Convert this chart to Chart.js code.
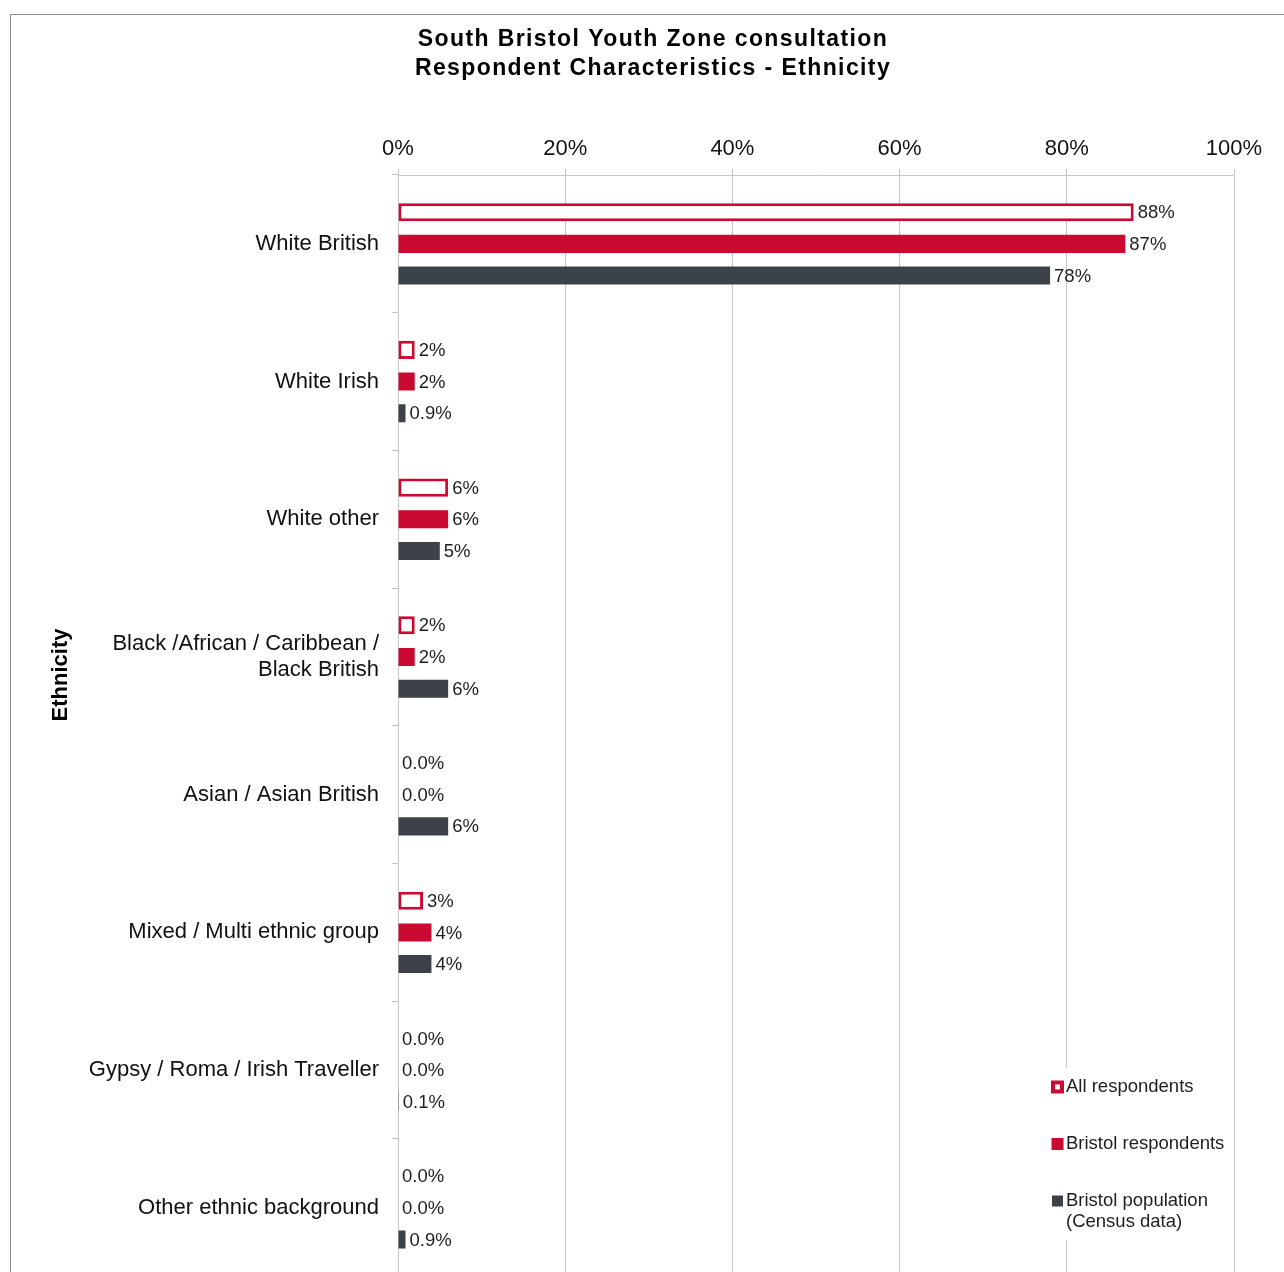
<!DOCTYPE html>
<html>
<head>
<meta charset="utf-8">
<title>South Bristol Youth Zone consultation - Ethnicity</title>
<script src="https://cdn.jsdelivr.net/npm/chart.js@4.4.1/dist/chart.umd.min.js"></script>
<style>
  html, body { margin: 0; padding: 0; background: #ffffff; overflow: hidden; }
  #wrap { position: absolute; left: 0; top: 0; width: 1300px; height: 1290px; }
  canvas { display: block; }
</style>
</head>
<body>
<div id="wrap"><canvas id="chart" width="1300" height="1290"></canvas></div>
<script>
// Ethnic groups (y axis)
const categories = [
  'White British',
  'White Irish',
  'White other',
  ['Black /African / Caribbean /', 'Black British'],
  'Asian / Asian British',
  'Mixed / Multi ethnic group',
  'Gypsy / Roma / Irish Traveller',
  'Other ethnic background'
];

// Series names
const seriesNames = ['All respondents', 'Bristol respondents', ['Bristol population', '(Census data)']];

// Share of each group, in percent
const allRespondents     = [88, 2, 6, 2, 0, 3, 0, 0];
const bristolRespondents = [87, 2, 6, 2, 0, 4, 0, 0];
const bristolPopulation  = [78, 0.9, 5, 6, 6, 4, 0.1, 0.9];

// Percentage axis
const axisMin = 0;
const axisMax = 100;
const axisStep = 20;

const chartTitle = ['South Bristol Youth Zone consultation', 'Respondent Characteristics - Ethnicity'];
const yAxisTitle = 'Ethnicity';

const RED = '#CA0A30';
const DARK = '#3D4148';
const GRID = '#c6c6c6';
const FONT = '"Liberation Sans", Arial, Helvetica, sans-serif';

function pct(v) {
  return v >= 1 ? Math.round(v) + '%' : v.toFixed(1) + '%';
}

// Outer frame around the chart
const framePlugin = {
  id: 'frame',
  beforeDraw(chart) {
    const ctx = chart.ctx;
    ctx.save();
    ctx.fillStyle = '#ffffff';
    ctx.fillRect(0, 0, chart.width, chart.height);
    ctx.strokeStyle = '#8c8c8c';
    ctx.lineWidth = 1;
    ctx.strokeRect(10.5, 14.5, chart.width + 50, chart.height + 50);
    ctx.restore();
  }
};

// Slightly tracked-out title lettering
const titleSpacingPlugin = {
  id: 'titleSpacing',
  afterInit(chart) {
    const block = chart.titleBlock;
    if (!block || block._spaced) return;
    const draw = block.draw.bind(block);
    block.draw = function () {
      const ctx = chart.ctx;
      ctx.save();
      if ('letterSpacing' in ctx) ctx.letterSpacing = '1.4px';
      draw();
      ctx.restore();
    };
    block._spaced = true;
  }
};

// Value labels at the end of each bar
const valueLabelPlugin = {
  id: 'valueLabels',
  afterDatasetsDraw(chart) {
    const ctx = chart.ctx;
    ctx.save();
    ctx.font = '18.5px ' + FONT;
    ctx.fillStyle = '#1e1e1e';
    ctx.textAlign = 'left';
    ctx.textBaseline = 'middle';
    chart.data.datasets.forEach((ds, i) => {
      const meta = chart.getDatasetMeta(i);
      meta.data.forEach((bar, j) => {
        ctx.fillText(pct(ds.data[j]), bar.x + 4, bar.y + 1);
      });
    });
    ctx.restore();
  }
};

// Rotated y axis title
const yTitlePlugin = {
  id: 'yTitle',
  afterDraw(chart) {
    const ctx = chart.ctx;
    ctx.save();
    ctx.translate(61, 675);
    ctx.rotate(-Math.PI / 2);
    ctx.font = 'bold 22px ' + FONT;
    ctx.fillStyle = '#000000';
    ctx.textAlign = 'center';
    ctx.textBaseline = 'middle';
    ctx.fillText(yAxisTitle, 0, 0);
    ctx.restore();
  }
};

// Legend placed inside the plot, lower right
const legendPlugin = {
  id: 'insideLegend',
  afterDraw(chart) {
    const ctx = chart.ctx;
    const x0 = 1044, y0 = 1068, w = 186, h = 172;
    ctx.save();
    ctx.fillStyle = '#ffffff';
    ctx.fillRect(x0, y0, w, h);
    ctx.font = '18.5px ' + FONT;
    ctx.textAlign = 'left';
    ctx.textBaseline = 'middle';
    const rows = [1087, 1144, 1201];
    chart.data.datasets.forEach((ds, i) => {
      const cy = rows[i];
      if (i === 0) {
        ctx.fillStyle = ds.borderColor;
        ctx.fillRect(1051, cy - 6.5, 13, 13);
        ctx.fillStyle = '#ffffff';
        ctx.fillRect(1055, cy - 2.5, 5, 5);
      } else {
        const s = i === 1 ? 12 : 11;
        ctx.fillStyle = ds.backgroundColor;
        ctx.fillRect(1057.5 - s / 2, cy - s / 2, s, s);
      }
      ctx.fillStyle = '#1e1e1e';
      const lines = Array.isArray(seriesNames[i]) ? seriesNames[i] : [seriesNames[i]];
      lines.forEach((t, k) => ctx.fillText(t, 1066, cy + k * 21));
    });
    ctx.restore();
  }
};

const TITLE_PAD_TOP = 24.5;
const TITLE_PAD_BOTTOM = 10;
const TITLE_LINE = 29.5;
const PLOT_TOP = 175;
const PLOT_LEFT = 398;
const PAD_LEFT = 72;

new Chart(document.getElementById('chart'), {
  type: 'bar',
  data: {
    labels: categories,
    datasets: [
      {
        label: 'All respondents',
        data: allRespondents,
        backgroundColor: '#ffffff',
        borderColor: RED,
        borderWidth: 3,
        borderSkipped: false
      },
      {
        label: 'Bristol respondents',
        data: bristolRespondents,
        backgroundColor: RED,
        borderWidth: 0
      },
      {
        label: 'Bristol population (Census data)',
        data: bristolPopulation,
        backgroundColor: DARK,
        borderWidth: 0
      }
    ]
  },
  options: {
    indexAxis: 'y',
    responsive: false,
    animation: false,
    devicePixelRatio: 1,
    barPercentage: 0.57,
    categoryPercentage: 0.69,
    layout: {
      padding: { left: PAD_LEFT, right: 66, top: 0, bottom: 13.3 }
    },
    plugins: {
      legend: { display: false },
      tooltip: { enabled: false },
      title: {
        display: true,
        text: chartTitle,
        color: '#000000',
        font: { family: FONT, size: 23, weight: 'bold', lineHeight: TITLE_LINE / 23 },
        padding: { top: TITLE_PAD_TOP, bottom: TITLE_PAD_BOTTOM }
      }
    },
    scales: {
      x: {
        position: 'top',
        min: axisMin,
        max: axisMax,
        ticks: {
          stepSize: axisStep,
          padding: 7,
          color: '#111111',
          font: { family: FONT, size: 22, lineHeight: 1.2 },
          callback: (v) => v + '%'
        },
        grid: { color: GRID, lineWidth: 1, tickLength: 6, drawTicks: true },
        border: { display: true, color: GRID, width: 1 },
        afterFit(scale) {
          scale.height = PLOT_TOP - (TITLE_PAD_TOP + 2 * TITLE_LINE + TITLE_PAD_BOTTOM);
          scale.paddingLeft = 0;
          scale.paddingRight = 0;
        }
      },
      y: {
        ticks: {
          padding: 13,
          color: '#111111',
          font: { family: FONT, size: 22, lineHeight: 1.15 }
        },
        grid: { drawOnChartArea: false, color: GRID, tickLength: 6, offset: true },
        border: { display: true, color: GRID, width: 1 },
        afterFit(scale) {
          scale.width = PLOT_LEFT - PAD_LEFT;
          scale.paddingTop = 0;
          scale.paddingBottom = 0;
        }
      }
    }
  },
  plugins: [titleSpacingPlugin, framePlugin, valueLabelPlugin, yTitlePlugin, legendPlugin]
});
</script>
</body>
</html>
